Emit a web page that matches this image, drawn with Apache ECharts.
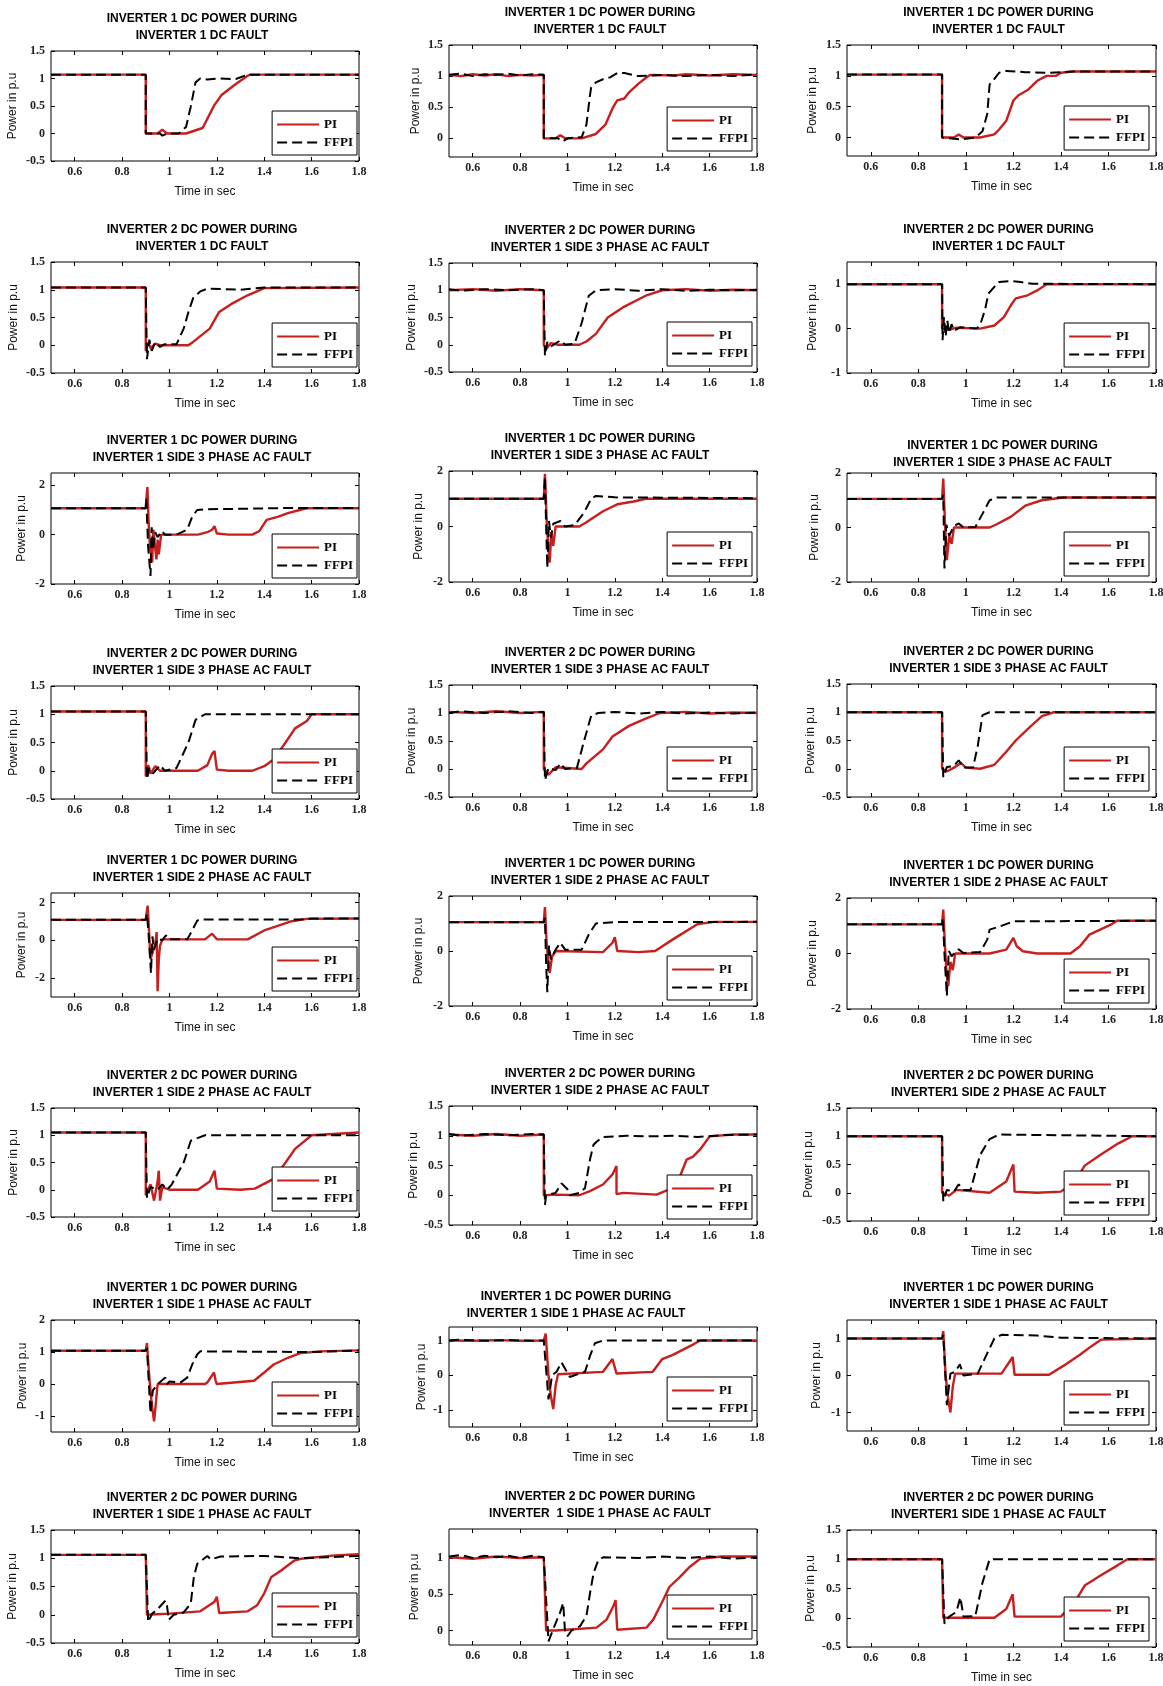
<!DOCTYPE html>
<html>
<head>
<meta charset="utf-8">
<script src="https://cdn.jsdelivr.net/npm/echarts@6/dist/echarts.min.js"></script>
<style>
html, body { margin: 0; padding: 0; background: #fff; }
#main { width: 1163px; height: 1686px; }
</style>
</head>
<body>
<div id="main"></div>
<script>
// ---- chart data ----
var xTicks = [0.6, 0.8, 1, 1.2, 1.4, 1.6, 1.8];

var titleTop = [
    'INVERTER 1 DC POWER DURING', 'INVERTER 1 DC POWER DURING', 'INVERTER 1 DC POWER DURING',
    'INVERTER 2 DC POWER DURING', 'INVERTER 2 DC POWER DURING', 'INVERTER 2 DC POWER DURING',
    'INVERTER 1 DC POWER DURING', 'INVERTER 1 DC POWER DURING', 'INVERTER 1 DC POWER DURING',
    'INVERTER 2 DC POWER DURING', 'INVERTER 2 DC POWER DURING', 'INVERTER 2 DC POWER DURING',
    'INVERTER 1 DC POWER DURING', 'INVERTER 1 DC POWER DURING', 'INVERTER 1 DC POWER DURING',
    'INVERTER 2 DC POWER DURING', 'INVERTER 2 DC POWER DURING', 'INVERTER 2 DC POWER DURING',
    'INVERTER 1 DC POWER DURING', 'INVERTER 1 DC POWER DURING', 'INVERTER 1 DC POWER DURING',
    'INVERTER 2 DC POWER DURING', 'INVERTER 2 DC POWER DURING', 'INVERTER 2 DC POWER DURING'
];
var titleBottom = [
    'INVERTER 1 DC FAULT', 'INVERTER 1 DC FAULT', 'INVERTER 1 DC FAULT',
    'INVERTER 1 DC FAULT', 'INVERTER 1 SIDE 3 PHASE AC FAULT', 'INVERTER 1 DC FAULT',
    'INVERTER 1 SIDE 3 PHASE AC FAULT', 'INVERTER 1 SIDE 3 PHASE AC FAULT', 'INVERTER 1 SIDE 3 PHASE AC FAULT',
    'INVERTER 1 SIDE 3 PHASE AC FAULT', 'INVERTER 1 SIDE 3 PHASE AC FAULT', 'INVERTER 1 SIDE 3 PHASE AC FAULT',
    'INVERTER 1 SIDE 2 PHASE AC FAULT', 'INVERTER 1 SIDE 2 PHASE AC FAULT', 'INVERTER 1 SIDE 2 PHASE AC FAULT',
    'INVERTER 1 SIDE 2 PHASE AC FAULT', 'INVERTER 1 SIDE 2 PHASE AC FAULT', 'INVERTER1 SIDE 2 PHASE AC FAULT',
    'INVERTER 1 SIDE 1 PHASE AC FAULT', 'INVERTER 1 SIDE 1 PHASE AC FAULT', 'INVERTER 1 SIDE 1 PHASE AC FAULT',
    'INVERTER 1 SIDE 1 PHASE AC FAULT', 'INVERTER  1 SIDE 1 PHASE AC FAULT', 'INVERTER1 SIDE 1 PHASE AC FAULT'
];

var yMin = [-0.5, -0.3, -0.3,  -0.5, -0.5, -1,  -2, -2, -2,  -0.5, -0.5, -0.5,
            -3, -2, -2,  -0.5, -0.5, -0.5,  -1.5, -1.5, -1.5,  -0.5, -0.2, -0.5];
var yMax = [1.5, 1.5, 1.5,  1.5, 1.5, 1.5,  2.5, 2, 2,  1.5, 1.5, 1.5,
            2.5, 2, 2,  1.5, 1.5, 1.5,  2, 1.4, 1.5,  1.5, 1.4, 1.5];

var ticksHalf = [-0.5, 0, 0.5, 1, 1.5];
var ticksHalfPos = [0, 0.5, 1, 1.5];
var ticksTwo = [-2, 0, 2];
var ticksOne = [-1, 0, 1];
var ticksOneTwo = [-1, 0, 1, 2];
var ticksSmall = [0, 0.5, 1];
var yTicks = [
    ticksHalf, ticksHalfPos, ticksHalfPos,
    ticksHalf, ticksHalf, ticksOne,
    ticksTwo, ticksTwo, ticksTwo,
    ticksHalf, ticksHalf, ticksHalf,
    ticksTwo, ticksTwo, ticksTwo,
    ticksHalf, ticksHalf, ticksHalf,
    ticksOneTwo, ticksOne, ticksOne,
    ticksHalf, ticksSmall, ticksHalf
];

// row 1
var pi_1_1 = [[0.5,1.07],[0.9,1.07],[0.9,0],[0.95,0],[0.97,0.07],[0.99,0],[1.07,0],[1.14,0.1],[1.19,0.52],[1.22,0.7],[1.25,0.8],[1.28,0.9],[1.33,1.05],[1.34,1.07],[1.8,1.07]];
var ffpi_1_1 = [[0.5,1.07],[0.9,1.07],[0.9,0],[0.96,0],[0.97,-0.04],[0.99,0],[1.04,0],[1.07,0.12],[1.09,0.49],[1.11,0.93],[1.13,1.0],[1.16,0.98],[1.2,1.0],[1.28,0.99],[1.33,1.07],[1.8,1.07]];
var pi_1_2 = [[0.5,1.02],[0.55,1.0],[0.6,1.03],[0.65,1.01],[0.7,1.03],[0.75,1.0],[0.8,1.02],[0.85,1.01],[0.9,1.02],[0.9,0],[0.95,0],[0.97,0.05],[0.99,0],[1.06,0],[1.12,0.07],[1.16,0.22],[1.19,0.48],[1.21,0.61],[1.24,0.64],[1.26,0.74],[1.3,0.88],[1.33,0.97],[1.35,1.02],[1.45,1.01],[1.5,1.03],[1.6,1.01],[1.7,1.03],[1.8,1.02]];
var ffpi_1_2 = [[0.5,1.02],[0.55,1.04],[0.6,1.0],[0.65,1.03],[0.7,1.02],[0.75,1.04],[0.8,1.01],[0.85,1.03],[0.9,1.02],[0.9,0],[0.96,0],[0.98,-0.05],[1.0,0],[1.06,0.02],[1.08,0.22],[1.095,0.69],[1.1,0.82],[1.12,0.9],[1.15,0.95],[1.18,0.98],[1.21,1.05],[1.24,1.05],[1.3,1.0],[1.4,1.02],[1.5,1.0],[1.6,1.02],[1.7,1.0],[1.8,1.03]];
var pi_1_3 = [[0.5,1.02],[0.9,1.02],[0.9,0],[0.95,0],[0.97,0.05],[0.99,0],[1.06,0],[1.12,0.05],[1.14,0.13],[1.17,0.27],[1.2,0.6],[1.22,0.68],[1.26,0.77],[1.3,0.92],[1.34,1.0],[1.38,1.0],[1.4,1.05],[1.45,1.07],[1.8,1.07]];
var ffpi_1_3 = [[0.5,1.02],[0.9,1.02],[0.9,0],[0.98,-0.03],[1.04,0],[1.07,0.1],[1.09,0.38],[1.1,0.86],[1.12,0.95],[1.14,1.05],[1.17,1.08],[1.25,1.06],[1.35,1.05],[1.45,1.07],[1.8,1.07]];
// row 2
var pi_2_1 = [[0.5,1.04],[0.9,1.04],[0.9,-0.1],[0.91,0.05],[0.92,-0.05],[0.94,0.03],[0.96,0],[1.08,0],[1.1,0.06],[1.17,0.3],[1.21,0.6],[1.26,0.74],[1.33,0.9],[1.4,1.03],[1.8,1.04]];
var ffpi_2_1 = [[0.5,1.04],[0.9,1.04],[0.905,-0.25],[0.915,0.1],[0.925,-0.1],[0.94,0.05],[0.96,-0.03],[0.98,0.02],[1.03,0.02],[1.06,0.3],[1.08,0.6],[1.1,0.85],[1.13,0.97],[1.16,1.02],[1.3,1.0],[1.4,1.04],[1.8,1.04]];
var pi_2_2 = [[0.5,1.0],[0.6,1.02],[0.7,0.99],[0.8,1.02],[0.9,1.0],[0.9,0],[0.91,-0.08],[0.93,0.03],[0.96,0],[1.05,0],[1.08,0.06],[1.12,0.2],[1.17,0.5],[1.24,0.7],[1.33,0.9],[1.4,1.0],[1.5,1.02],[1.6,0.99],[1.7,1.01],[1.8,1.0]];
var ffpi_2_2 = [[0.5,1.02],[0.55,0.99],[0.65,1.02],[0.75,1.0],[0.85,1.02],[0.9,1.0],[0.905,-0.2],[0.915,0.05],[0.93,-0.03],[0.97,0.08],[0.99,0],[1.03,0.02],[1.06,0.4],[1.09,0.9],[1.12,1.0],[1.2,1.02],[1.3,0.99],[1.4,1.02],[1.5,0.99],[1.6,1.01],[1.7,1.0],[1.8,1.01]];
var pi_2_3 = [[0.5,1.0],[0.9,1.0],[0.9,0],[0.93,-0.03],[0.96,0.02],[1.06,0],[1.12,0.07],[1.16,0.26],[1.19,0.53],[1.21,0.68],[1.26,0.75],[1.3,0.86],[1.34,1.0],[1.8,1.0]];
var ffpi_2_3 = [[0.5,1.0],[0.9,1.0],[0.902,-0.26],[0.908,0.26],[0.915,-0.18],[0.922,0.18],[0.93,-0.1],[0.94,0.1],[0.95,-0.05],[0.975,0.03],[1.045,0],[1.06,0.08],[1.08,0.41],[1.095,0.79],[1.12,0.94],[1.14,1.05],[1.19,1.07],[1.23,1.05],[1.28,1.01],[1.8,1.0]];
// row 3
var pi_3_1 = [[0.5,1.07],[0.9,1.07],[0.903,1.5],[0.907,1.93],[0.912,0.5],[0.918,-0.5],[0.927,-1.13],[0.932,0.2],[0.938,-0.4],[0.945,-1.0],[0.95,-0.2],[0.955,-0.8],[0.965,0],[1.0,0],[1.12,0],[1.16,0.1],[1.18,0.2],[1.19,0.35],[1.2,0.05],[1.25,0],[1.35,0],[1.38,0.15],[1.41,0.6],[1.46,0.73],[1.5,0.87],[1.55,1.0],[1.58,1.07],[1.8,1.07]];
var ffpi_3_1 = [[0.5,1.07],[0.9,1.07],[0.902,1.47],[0.91,-0.5],[0.92,-1.67],[0.925,0.3],[0.93,-0.6],[0.94,0.1],[0.95,-0.1],[0.97,0.15],[0.98,0],[1.03,0],[1.075,0.2],[1.096,0.73],[1.117,1.0],[1.16,1.03],[1.3,1.05],[1.5,1.08],[1.8,1.08]];
var pi_3_2 = [[0.5,1.0],[0.9,1.0],[0.905,1.9],[0.912,0.3],[0.918,-0.6],[0.925,-1.3],[0.932,-0.2],[0.94,-0.7],[0.95,0],[1.05,0],[1.08,0.15],[1.15,0.55],[1.21,0.8],[1.28,0.9],[1.33,1.0],[1.8,1.0]];
var ffpi_3_2 = [[0.5,1.0],[0.9,1.0],[0.905,1.8],[0.91,0],[0.915,-1.5],[0.922,0.2],[0.93,-0.4],[0.94,0.1],[0.97,0.2],[0.99,0],[1.03,0.05],[1.07,0.5],[1.1,1.0],[1.12,1.1],[1.2,1.05],[1.8,1.02]];
var pi_3_3 = [[0.5,1.05],[0.9,1.05],[0.905,1.8],[0.912,0.2],[0.92,-1.2],[0.93,-0.3],[0.94,-0.6],[0.95,0],[1.1,0],[1.13,0.12],[1.19,0.4],[1.25,0.8],[1.32,1.0],[1.41,1.1],[1.8,1.1]];
var ffpi_3_3 = [[0.5,1.05],[0.9,1.05],[0.905,1.2],[0.91,-1.5],[0.918,0.1],[0.93,-0.3],[0.95,0.05],[0.97,0.15],[0.99,0],[1.04,0.02],[1.07,0.5],[1.1,1.0],[1.13,1.1],[1.8,1.1]];
// row 4
var pi_4_1 = [[0.5,1.05],[0.9,1.05],[0.9,-0.1],[0.91,0.1],[0.92,-0.05],[0.94,0.08],[0.96,0],[1.12,0],[1.16,0.1],[1.18,0.3],[1.19,0.35],[1.2,0.02],[1.25,0],[1.35,0],[1.4,0.08],[1.44,0.2],[1.49,0.5],[1.53,0.75],[1.58,0.88],[1.6,1.0],[1.8,1.0]];
var ffpi_4_1 = [[0.5,1.05],[0.9,1.05],[0.905,-0.15],[0.915,0.05],[0.93,-0.05],[0.96,0.1],[0.98,0],[1.03,0.05],[1.08,0.5],[1.11,0.9],[1.15,1.0],[1.8,1.0]];
var pi_4_2 = [[0.5,1.02],[0.6,1.0],[0.7,1.03],[0.8,1.0],[0.9,1.02],[0.9,0],[0.92,-0.1],[0.95,0.03],[1.06,0],[1.08,0.1],[1.15,0.35],[1.19,0.58],[1.26,0.77],[1.33,0.9],[1.39,1.0],[1.5,1.02],[1.6,0.99],[1.7,1.01],[1.8,1.0]];
var ffpi_4_2 = [[0.5,1.0],[0.55,1.03],[0.65,1.0],[0.75,1.03],[0.85,1.0],[0.9,1.02],[0.905,-0.2],[0.92,0.02],[0.95,-0.02],[0.97,0.1],[0.99,0],[1.04,0.02],[1.07,0.5],[1.1,0.95],[1.13,1.0],[1.2,1.02],[1.3,0.99],[1.4,1.02],[1.5,0.99],[1.6,1.01],[1.7,0.99],[1.8,1.01]];
var pi_4_3 = [[0.5,1.0],[0.9,1.0],[0.9,0],[0.92,-0.05],[0.95,0.02],[0.98,0.1],[1.0,0.02],[1.06,0],[1.12,0.07],[1.17,0.3],[1.21,0.5],[1.26,0.7],[1.32,0.93],[1.37,1.0],[1.8,1.0]];
var ffpi_4_3 = [[0.5,1.0],[0.9,1.0],[0.905,-0.15],[0.92,0.03],[0.95,0.05],[0.97,0.15],[0.99,0.02],[1.03,0.02],[1.05,0.4],[1.07,0.95],[1.1,1.0],[1.8,1.0]];
// row 5
var pi_5_1 = [[0.5,1.08],[0.9,1.08],[0.903,1.4],[0.908,1.83],[0.915,0.2],[0.92,-1.0],[0.93,-0.6],[0.94,-0.2],[0.946,0.43],[0.95,-2.7],[0.955,-1.0],[0.96,-0.3],[0.97,0.05],[1.15,0.05],[1.18,0.35],[1.2,0.05],[1.33,0.05],[1.4,0.52],[1.46,0.78],[1.51,0.99],[1.58,1.13],[1.8,1.15]];
var ffpi_5_1 = [[0.5,1.08],[0.9,1.08],[0.905,1.4],[0.912,0.3],[0.922,-1.74],[0.928,0.2],[0.935,-0.5],[0.95,0.1],[0.97,0.0],[0.985,0.26],[0.995,0.05],[1.075,0.05],[1.096,0.52],[1.117,1.04],[1.13,1.1],[1.55,1.1],[1.6,1.15],[1.8,1.15]];
var pi_5_2 = [[0.5,1.05],[0.9,1.05],[0.905,1.6],[0.912,0.3],[0.918,-0.3],[0.925,-0.8],[0.935,-0.2],[0.95,0],[1.15,-0.04],[1.19,0.3],[1.2,0.5],[1.21,0],[1.3,-0.04],[1.37,0],[1.45,0.45],[1.55,0.98],[1.62,1.06],[1.8,1.06]];
var ffpi_5_2 = [[0.5,1.05],[0.9,1.05],[0.905,1.2],[0.91,-0.5],[0.915,-1.5],[0.922,0.2],[0.93,-0.3],[0.95,0.05],[0.97,0.3],[0.99,0.05],[1.06,0.05],[1.09,0.6],[1.12,1.0],[1.2,1.05],[1.8,1.06]];
var pi_5_3 = [[0.5,1.05],[0.9,1.05],[0.905,1.58],[0.912,0.3],[0.918,-0.6],[0.926,-1.17],[0.935,-0.3],[0.945,-0.6],[0.955,0],[1.1,0],[1.17,0.14],[1.2,0.56],[1.214,0.26],[1.24,0.08],[1.3,0],[1.44,0],[1.48,0.26],[1.52,0.68],[1.565,0.86],[1.61,1.04],[1.635,1.18],[1.8,1.18]];
var ffpi_5_3 = [[0.5,1.05],[0.9,1.05],[0.903,1.28],[0.91,0],[0.92,-1.53],[0.928,0.1],[0.94,-0.1],[0.955,0.05],[0.97,0.15],[0.99,0.02],[1.06,0.05],[1.09,0.5],[1.1,0.86],[1.144,0.98],[1.2,1.16],[1.8,1.18]];
// row 6
var pi_6_1 = [[0.5,1.05],[0.9,1.05],[0.9,-0.1],[0.92,0.1],[0.935,-0.2],[0.95,0.15],[0.955,0.35],[0.96,-0.2],[0.97,0.05],[1.0,0],[1.12,0],[1.17,0.15],[1.19,0.35],[1.2,0.02],[1.3,0],[1.36,0.02],[1.44,0.2],[1.49,0.5],[1.53,0.75],[1.6,1.0],[1.8,1.05]];
var ffpi_6_1 = [[0.5,1.05],[0.9,1.05],[0.905,-0.15],[0.92,0.05],[0.95,0],[0.97,0.1],[0.99,0],[1.01,0.1],[1.06,0.5],[1.09,0.9],[1.15,1.0],[1.8,1.0]];
var pi_6_2 = [[0.5,1.02],[0.6,1.0],[0.7,1.03],[0.8,1.0],[0.9,1.02],[0.9,0],[0.95,0.01],[1.05,0],[1.095,0.07],[1.15,0.18],[1.19,0.35],[1.207,0.49],[1.207,0.02],[1.235,0.04],[1.376,0.01],[1.43,0.1],[1.475,0.32],[1.503,0.6],[1.53,0.65],[1.56,0.77],[1.6,0.99],[1.7,1.02],[1.8,1.02]];
var ffpi_6_2 = [[0.5,1.03],[0.55,1.0],[0.65,1.03],[0.75,1.01],[0.85,1.03],[0.9,1.02],[0.905,-0.16],[0.91,0],[0.95,0.04],[0.975,0.2],[1.0,0.1],[1.01,0],[1.05,0.04],[1.074,0.12],[1.095,0.6],[1.11,0.85],[1.123,0.9],[1.15,0.98],[1.25,1.0],[1.35,0.99],[1.45,1.0],[1.55,0.98],[1.65,1.01],[1.8,1.02]];
var pi_6_3 = [[0.5,1.0],[0.9,1.0],[0.9,0],[0.93,-0.05],[0.96,0.05],[1.1,0],[1.17,0.2],[1.2,0.5],[1.205,0.02],[1.3,0],[1.4,0.02],[1.46,0.2],[1.5,0.48],[1.57,0.68],[1.64,0.87],[1.7,1.0],[1.8,1.0]];
var ffpi_6_3 = [[0.5,1.0],[0.9,1.0],[0.905,-0.15],[0.92,0.05],[0.95,0.02],[0.97,0.15],[0.99,0.05],[1.02,0.05],[1.06,0.67],[1.1,0.95],[1.14,1.03],[1.8,1.0]];
// row 7
var pi_7_1 = [[0.5,1.04],[0.9,1.04],[0.905,1.28],[0.915,0.2],[0.925,-0.6],[0.935,-1.17],[0.94,-0.8],[0.95,0],[1.15,0],[1.16,0.05],[1.188,0.36],[1.195,0.1],[1.2,0],[1.357,0.1],[1.4,0.36],[1.44,0.61],[1.5,0.82],[1.555,0.97],[1.64,1.02],[1.8,1.05]];
var ffpi_7_1 = [[0.5,1.04],[0.9,1.04],[0.905,1.12],[0.92,-0.92],[0.93,-0.2],[0.95,0],[0.983,0.2],[0.99,0],[1.0,0.08],[1.047,0.05],[1.075,0.2],[1.096,0.61],[1.117,0.92],[1.13,1.02],[1.6,1.0],[1.8,1.05]];
var pi_7_2 = [[0.5,1.01],[0.6,1.0],[0.7,1.02],[0.8,1.0],[0.9,1.01],[0.908,1.21],[0.92,0.0],[0.93,-0.6],[0.94,-0.98],[0.95,-0.3],[0.96,0.03],[1.15,0.1],[1.19,0.47],[1.207,0.05],[1.36,0.1],[1.4,0.47],[1.447,0.6],[1.49,0.75],[1.53,0.89],[1.56,1.01],[1.8,1.01]];
var ffpi_7_2 = [[0.5,1.01],[0.55,1.03],[0.65,1.0],[0.75,1.02],[0.85,1.0],[0.9,1.01],[0.92,-0.7],[0.935,0.0],[0.954,0.1],[0.975,0.37],[0.99,0.19],[1.01,-0.05],[1.03,0],[1.074,0.1],[1.095,0.56],[1.116,0.93],[1.15,1.01],[1.8,1.01]];
var pi_7_3 = [[0.5,1.0],[0.9,1.0],[0.905,1.2],[0.915,0.0],[0.925,-0.6],[0.935,-1.0],[0.945,-0.3],[0.955,0.05],[1.15,0.05],[1.197,0.5],[1.205,0.02],[1.35,0.02],[1.41,0.26],[1.48,0.56],[1.53,0.8],[1.57,0.97],[1.8,1.0]];
var ffpi_7_3 = [[0.5,1.0],[0.9,1.0],[0.905,1.1],[0.92,-0.8],[0.935,0.05],[0.955,0.1],[0.975,0.3],[0.99,0.0],[1.05,0.05],[1.09,0.6],[1.12,1.0],[1.15,1.1],[1.3,1.08],[1.4,1.02],[1.8,1.0]];
// row 8
var pi_8_1 = [[0.5,1.06],[0.9,1.06],[0.905,0],[1.0,0.02],[1.13,0.06],[1.19,0.23],[1.2,0.32],[1.21,0.03],[1.33,0.06],[1.37,0.17],[1.4,0.38],[1.43,0.67],[1.47,0.78],[1.527,0.96],[1.555,0.99],[1.7,1.05],[1.8,1.07]];
var ffpi_8_1 = [[0.5,1.06],[0.9,1.06],[0.91,-0.13],[0.927,0.02],[0.948,0.09],[0.983,0.25],[0.99,0.15],[0.997,-0.09],[1.018,0],[1.06,0.04],[1.09,0.2],[1.103,0.67],[1.117,0.9],[1.145,0.99],[1.16,1.04],[1.174,0.98],[1.216,1.03],[1.4,1.04],[1.55,1.0],[1.8,1.04]];
var pi_8_2 = [[0.5,1.01],[0.6,0.99],[0.7,1.02],[0.8,1.0],[0.9,1.01],[0.91,0],[0.95,0],[1.123,0.04],[1.165,0.15],[1.193,0.33],[1.203,0.42],[1.21,0.01],[1.334,0.04],[1.362,0.15],[1.404,0.42],[1.43,0.6],[1.475,0.74],[1.517,0.88],[1.56,0.99],[1.65,1.02],[1.8,1.02]];
var ffpi_8_2 = [[0.5,1.02],[0.55,1.04],[0.6,1.0],[0.65,1.03],[0.7,1.01],[0.75,1.03],[0.8,1.0],[0.85,1.03],[0.9,1.01],[0.92,-0.15],[0.94,0.02],[0.968,0.24],[0.982,0.38],[0.99,-0.03],[1.0,-0.08],[1.017,0],[1.053,0.06],[1.08,0.2],[1.095,0.51],[1.11,0.79],[1.13,0.97],[1.15,1.01],[1.3,1.0],[1.4,1.02],[1.5,1.0],[1.6,1.02],[1.7,0.99],[1.8,1.01]];
var pi_8_3 = [[0.5,1.0],[0.9,1.0],[0.905,0],[1.12,0],[1.17,0.15],[1.197,0.4],[1.205,0.02],[1.4,0.02],[1.46,0.28],[1.5,0.55],[1.57,0.73],[1.64,0.9],[1.68,1.0],[1.8,1.0]];
var ffpi_8_3 = [[0.5,1.0],[0.9,1.0],[0.91,-0.1],[0.93,0.02],[0.96,0.1],[0.977,0.35],[0.99,0.02],[1.04,0.03],[1.07,0.6],[1.1,1.0],[1.8,1.0]];

var piData = [pi_1_1, pi_1_2, pi_1_3, pi_2_1, pi_2_2, pi_2_3, pi_3_1, pi_3_2, pi_3_3, pi_4_1, pi_4_2, pi_4_3,
              pi_5_1, pi_5_2, pi_5_3, pi_6_1, pi_6_2, pi_6_3, pi_7_1, pi_7_2, pi_7_3, pi_8_1, pi_8_2, pi_8_3];
var ffpiData = [ffpi_1_1, ffpi_1_2, ffpi_1_3, ffpi_2_1, ffpi_2_2, ffpi_2_3, ffpi_3_1, ffpi_3_2, ffpi_3_3, ffpi_4_1, ffpi_4_2, ffpi_4_3,
                ffpi_5_1, ffpi_5_2, ffpi_5_3, ffpi_6_1, ffpi_6_2, ffpi_6_3, ffpi_7_1, ffpi_7_2, ffpi_7_3, ffpi_8_1, ffpi_8_2, ffpi_8_3];

// ---- layout (plot boxes in px) ----
var colX = [[51, 359], [449, 757], [847, 1156]];
var rowY = [
    [[51, 161], [45, 157], [45, 156]],
    [[262, 373], [263, 372], [262, 373]],
    [[473, 584], [471, 582], [473, 582]],
    [[686, 799], [685, 797], [684, 797]],
    [[893, 997], [896, 1006], [898, 1009]],
    [[1108, 1217], [1106, 1225], [1108, 1221]],
    [[1320, 1432], [1327, 1427], [1320, 1431]],
    [[1530, 1643], [1529, 1645], [1530, 1647]]
];
var yNameOff = [38, 33, 34, 37, 37, 34, 29, 30, 32, 37, 37, 36, 29, 30, 34, 37, 34, 38, 28, 27, 30, 38, 34, 36];
var titleShift = { 8: [4, 5], 19: [-24, 2] };
var legendGapR = [2, 5, 7];

var W = 1163, H = 1686;
var RED = '#c81e1e';
var tickFont = { fontFamily: 'Liberation Sans Narrow', fontSize: 12, fontWeight: 'bold', color: '#222' };
var nameFont = { fontFamily: 'Liberation Sans', fontSize: 12, color: '#111' };
var tickStyle = { color: '#000' };

var chart = echarts.init(document.getElementById('main'));
var option = { animation: false, backgroundColor: '#fff', title: [], grid: [], xAxis: [], yAxis: [], legend: [], series: [] };

for (var i = 0; i < 24; i++) {
    var r = Math.floor(i / 3), c = i % 3;
    var L = colX[c][0], R = colX[c][1], T = rowY[r][c][0], B = rowY[r][c][1];
    var sh = titleShift[i] || [0, 0];

    option.title.push({
        text: titleTop[i] + '\n' + titleBottom[i],
        left: (L + R) / 2 - 3 + sh[0], top: T - 40.5 + sh[1],
        textAlign: 'center', padding: 0,
        textStyle: { fontFamily: 'Liberation Sans', fontSize: 12, fontWeight: 'bold', color: '#000', lineHeight: 17 }
    });
    option.grid.push({
        left: L, top: T, width: R - L, height: B - T,
        show: true, borderColor: '#000', borderWidth: 1, outerBoundsMode: 'none'
    });
    // bottom + top x axes
    option.xAxis.push({
        type: 'value', gridIndex: i, min: 0.5, max: 1.8, position: 'bottom',
        axisLine: { show: false, onZero: false }, splitLine: { show: false },
        axisTick: { inside: true, length: 4, customValues: xTicks, lineStyle: tickStyle },
        axisLabel: Object.assign({ customValues: xTicks, margin: 5 }, tickFont),
        name: 'Time in sec', nameLocation: 'middle', nameGap: 25, nameTextStyle: nameFont
    });
    option.xAxis.push({
        type: 'value', gridIndex: i, min: 0.5, max: 1.8, position: 'top',
        axisLine: { show: false, onZero: false }, splitLine: { show: false },
        axisTick: { inside: true, length: 4, customValues: xTicks, lineStyle: tickStyle },
        axisLabel: { show: false }
    });
    // left + right y axes
    option.yAxis.push({
        type: 'value', gridIndex: i, min: yMin[i], max: yMax[i], position: 'left',
        axisLine: { show: false, onZero: false }, splitLine: { show: false },
        axisTick: { inside: true, length: 4, customValues: yTicks[i], lineStyle: tickStyle },
        axisLabel: Object.assign({ customValues: yTicks[i], margin: 6 }, tickFont),
        name: 'Power in p.u', nameLocation: 'middle', nameGap: yNameOff[i] - 6, nameTextStyle: nameFont
    });
    option.yAxis.push({
        type: 'value', gridIndex: i, min: yMin[i], max: yMax[i], position: 'right',
        axisLine: { show: false, onZero: false }, splitLine: { show: false },
        axisTick: { inside: true, length: 4, customValues: yTicks[i], lineStyle: tickStyle },
        axisLabel: { show: false }
    });

    option.series.push({
        type: 'line', name: 'PI', xAxisIndex: 2 * i, yAxisIndex: 2 * i,
        data: piData[i], symbol: 'none', z: 2,
        lineStyle: { color: RED, width: 2.4 }, itemStyle: { color: RED }
    });
    option.series.push({
        type: 'line', name: 'FFPI', xAxisIndex: 2 * i, yAxisIndex: 2 * i,
        data: ffpiData[i], symbol: 'none', z: 3,
        lineStyle: { color: '#000', width: 2, type: [10, 5] }, itemStyle: { color: '#000' }
    });

    option.legend.push({
        data: ['PI', 'FFPI'], orient: 'vertical', align: 'left', selectedMode: false,
        right: W - R + legendGapR[c], bottom: H - B + 6,
        backgroundColor: '#fff', borderColor: '#000', borderWidth: 1,
        padding: [7, 4, 6, 4], itemWidth: 42, itemHeight: 14, itemGap: 5,
        itemStyle: { opacity: 0, borderWidth: 0 },
        textStyle: { fontFamily: 'Liberation Serif', fontWeight: 'bold', fontSize: 13, color: '#000' }
    });
}

chart.setOption(option);
</script>
</body>
</html>
